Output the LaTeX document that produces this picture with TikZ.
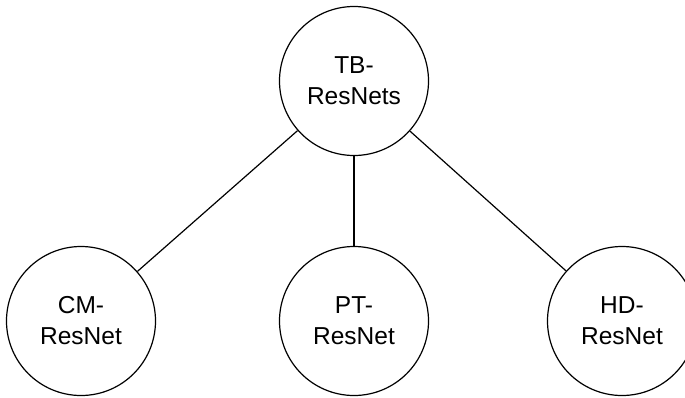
\documentclass[tikz,border=0pt]{standalone}
\usepackage{fontspec}
\setmainfont{Liberation Sans}
\begin{document}
\begin{tikzpicture}[x=1pt,y=-1pt,
  treenode/.style={circle,draw,line width=1.2pt,minimum size=149pt,inner sep=0pt,
    align=center,font=\fontsize{24.5}{31}\selectfont},
  link/.style={line width=1.2pt}]
\useasboundingbox (0,0) rectangle (685,397);
\node[treenode] (tb) at (354,81) {TB-\\ResNets};
\node[treenode] (cm) at (81,321) {CM-\\ResNet};
\node[treenode] (pt) at (354,321) {PT-\\ResNet};
\node[treenode] (hd) at (622,321) {HD-\\ResNet};
\draw[link] (tb) -- (cm);
\draw[link] (tb) -- (pt);
\draw[link] (tb) -- (hd);
\end{tikzpicture}
\end{document}
